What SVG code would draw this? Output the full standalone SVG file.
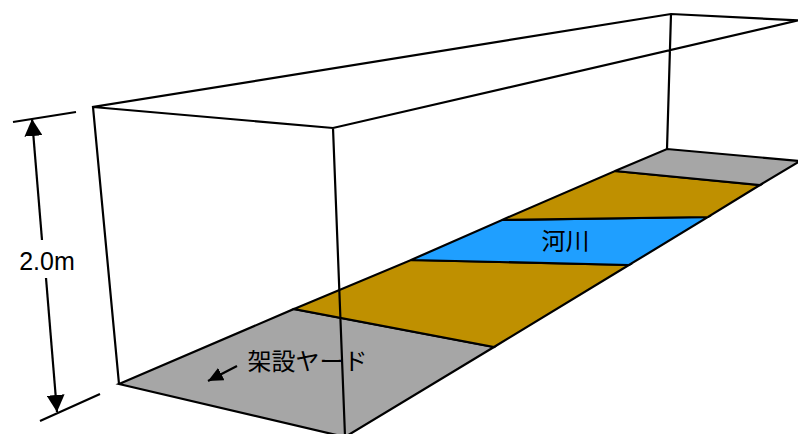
<svg xmlns="http://www.w3.org/2000/svg" width="798" height="434" viewBox="0 0 798 434">
<style>
.f{stroke:#000;stroke-width:2.2;stroke-linejoin:miter}
.l{fill:none;stroke:#000;stroke-width:2.2}
.t{font-family:"Liberation Sans","Noto Sans CJK JP",sans-serif;font-size:25px;fill:#000}
.c{font-family:"Noto Sans CJK JP",sans-serif;font-size:24px;fill:#000}
</style>
<defs>
<marker id="a" markerUnits="userSpaceOnUse" markerWidth="17" markerHeight="18" refX="17" refY="9" orient="auto"><path d="M0 0L17 9L0 18z" fill="#000"/></marker>
<marker id="b" markerUnits="userSpaceOnUse" markerWidth="15" markerHeight="14" refX="15" refY="7" orient="auto"><path d="M0 0L15 7L0 14z" fill="#000"/></marker>
</defs>
<rect width="798" height="434" fill="#fff"/>
<g id="yard-front"><polygon class="f" fill="#a6a6a6" points="119,384 294,309 494,347 345,437"/></g>
<g id="land-front"><polygon class="f" fill="#bf9000" points="294,309 411,260 629,265 494,347"/></g>
<g id="river"><polygon class="f" fill="#1f9fff" points="411,260 502,220 708,217 629,265"/><text class="c" x="565.500" y="250" text-anchor="middle">河川</text></g>
<g id="land-back"><polygon class="f" fill="#bf9000" points="502,220 615,171 760,185 708,217"/></g>
<g id="yard-back"><polygon class="f" fill="#a6a6a6" points="615,171 667,149 800,161 760,185"/></g>
<g id="connectors">
<path class="l" d="M119,384L93,107L671,14L800,20.500M93,107L333,128L800,20M333,128L345,436M671,14L667,149"/>
<path class="l" d="M13,122L76,112M40,421L100,394"/>
<path class="l" marker-end="url(#a)" d="M42,240L32,119"/>
<path class="l" marker-end="url(#a)" d="M46,278L57,412"/>
<path class="l" marker-end="url(#b)" d="M237,366L208,381"/>
</g>
<g id="labels">
<text class="t" x="47" y="270" text-anchor="middle">2.0m</text>
<text class="c" x="307.500" y="370" text-anchor="middle">架設ヤード</text>
</g>
</svg>
